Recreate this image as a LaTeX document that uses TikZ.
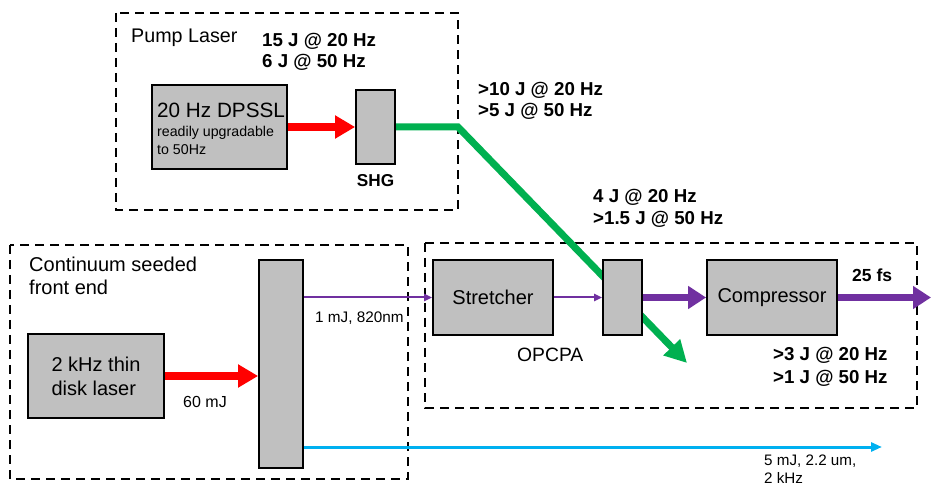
\documentclass[tikz,border=0pt]{standalone}
\usepackage{fontspec}
\setmainfont{Liberation Sans}
\usetikzlibrary{arrows.meta}
\definecolor{boxgray}{RGB}{192,192,192}
\definecolor{beamred}{RGB}{255,0,0}
\definecolor{beamgreen}{RGB}{0,176,80}
\definecolor{beampurple}{RGB}{112,48,160}
\definecolor{beamblue}{RGB}{0,176,240}
\tikzset{
  frame/.style={draw=black, line width=2pt, dash pattern=on 9pt off 6pt},
  block/.style={draw=black, fill=boxgray, line width=1.8pt, rectangle, inner sep=0pt},
  lbl/.style={inner sep=0pt, anchor=base west, text=black},
  regtext/.style={font=\fontsize{20}{24}\selectfont},
  boldtext/.style={font=\bfseries\fontsize{18.7}{22}\selectfont},
  smalltext/.style={font=\fontsize{15.3}{18}\selectfont},
  redbeam/.style={draw=beamred, line width=8pt, -{Triangle[length=20pt,width=22pt]}},
  greenbeam/.style={draw=beamgreen, line width=7pt, -{Triangle[length=22pt,width=22pt]}},
  purplethin/.style={draw=beampurple, line width=2pt, -{Triangle[length=8pt,width=7pt]}},
  purplethick/.style={draw=beampurple, line width=7pt, -{Triangle[length=18pt,width=22pt]}},
  bluebeam/.style={draw=beamblue, line width=3pt, -{Triangle[length=11pt,width=9pt]}}
}
\begin{document}
\begin{tikzpicture}[x=1pt,y=-1pt]
\useasboundingbox (0,0) rectangle (932,486);
% frames
\draw[frame] (116,13) rectangle (458,210);
\draw[frame] (10,245) rectangle (408,479);
\draw[frame] (425,243) rectangle (917,408);
% green beam (behind amplifier)
\coordinate (gcorner) at (458,127);
\coordinate (gend) at (687,363);
\coordinate (shgout) at (395,127);
\draw[greenbeam] (shgout) -- (gcorner) -- (gend);
% blocks
\node[block, minimum width=135pt, minimum height=84pt] (dpssl) at (219.5,127) {};
\node[block, minimum width=39pt, minimum height=74pt] (shg) at (375.5,127) {};
\node[block, minimum width=136pt, minimum height=84pt, regtext, align=left] (disk) at (96,376) {2 kHz thin\\disk laser};
\node[block, minimum width=44pt, minimum height=208pt] (fe) at (281,364) {};
\node[block, minimum width=120pt, minimum height=75pt, regtext] (stretcher) at (493,297.5) {Stretcher};
\node[block, minimum width=39pt, minimum height=75pt] (amp) at (622.5,297.5) {};
\node[block, minimum width=130pt, minimum height=75pt, regtext] (comp) at (772,297.5) {Compressor};
% beams
\draw[redbeam] (dpssl) -- (shg);
\draw[redbeam] (disk.east) -- (disk.east -| fe.west);
\draw[purplethin] (stretcher.west -| fe.east) -- (stretcher.west);
\draw[purplethin] (stretcher) -- (amp);
\draw[purplethick] (amp) -- (comp);
\coordinate (out) at (931,297.5);
\draw[purplethick] (comp) -- (out);
\coordinate (blueend) at (882,447);
\draw[bluebeam] (fe.east |- blueend) -- (blueend);
% labels
\node[lbl, regtext, font=\fontsize{19.7}{24}\selectfont] (pumplbl) at (131,43) {Pump Laser};
\node[lbl, boldtext] (e1a) at (262,47) {15 J @ 20 Hz};
\node[lbl, boldtext] (e1b) at (262,68) {6 J @ 50 Hz};
\node[lbl, font=\fontsize{20.7}{24}\selectfont] (dpsslt) at (157,118) {20 Hz DPSSL};
\node[lbl, font=\fontsize{14.2}{17}\selectfont] (dpsslu1) at (157,137) {readily upgradable};
\node[lbl, font=\fontsize{14.2}{17}\selectfont] (dpsslu2) at (157,155) {to 50Hz};
\node[lbl, anchor=base, font=\bfseries\fontsize{17.2}{20}\selectfont] (shglbl) at (375.5,187) {SHG};
\node[lbl, boldtext] (e2a) at (478,96) {>10 J @ 20 Hz};
\node[lbl, boldtext] (e2b) at (478,117) {>5 J @ 50 Hz};
\node[lbl, boldtext] (e3a) at (593,203) {4 J @ 20 Hz};
\node[lbl, boldtext] (e3b) at (593,225) {>1.5 J @ 50 Hz};
\node[lbl, regtext] (felbl1) at (29,272) {Continuum seeded};
\node[lbl, regtext] (felbl2) at (29,295) {front end};
\node[lbl, font=\fontsize{16}{19}\selectfont] (mj60) at (183,407) {60 mJ};
\node[lbl, smalltext] (mj1) at (315,323) {1 mJ, 820nm};
\node[lbl, font=\fontsize{19.3}{23}\selectfont] (opcpa) at (517,362) {OPCPA};
\node[lbl, boldtext] (e4a) at (773,360) {>3 J @ 20 Hz};
\node[lbl, boldtext] (e4b) at (773,383) {>1 J @ 50 Hz};
\node[lbl, font=\bfseries\fontsize{17.5}{21}\selectfont] (fs) at (852,282) {25 fs};
\node[lbl, font=\fontsize{15.2}{18}\selectfont] (mj5a) at (764,465) {5 mJ, 2.2 um,};
\node[lbl, font=\fontsize{15.2}{18}\selectfont] (mj5b) at (764,483) {2 kHz};
\end{tikzpicture}
\end{document}
